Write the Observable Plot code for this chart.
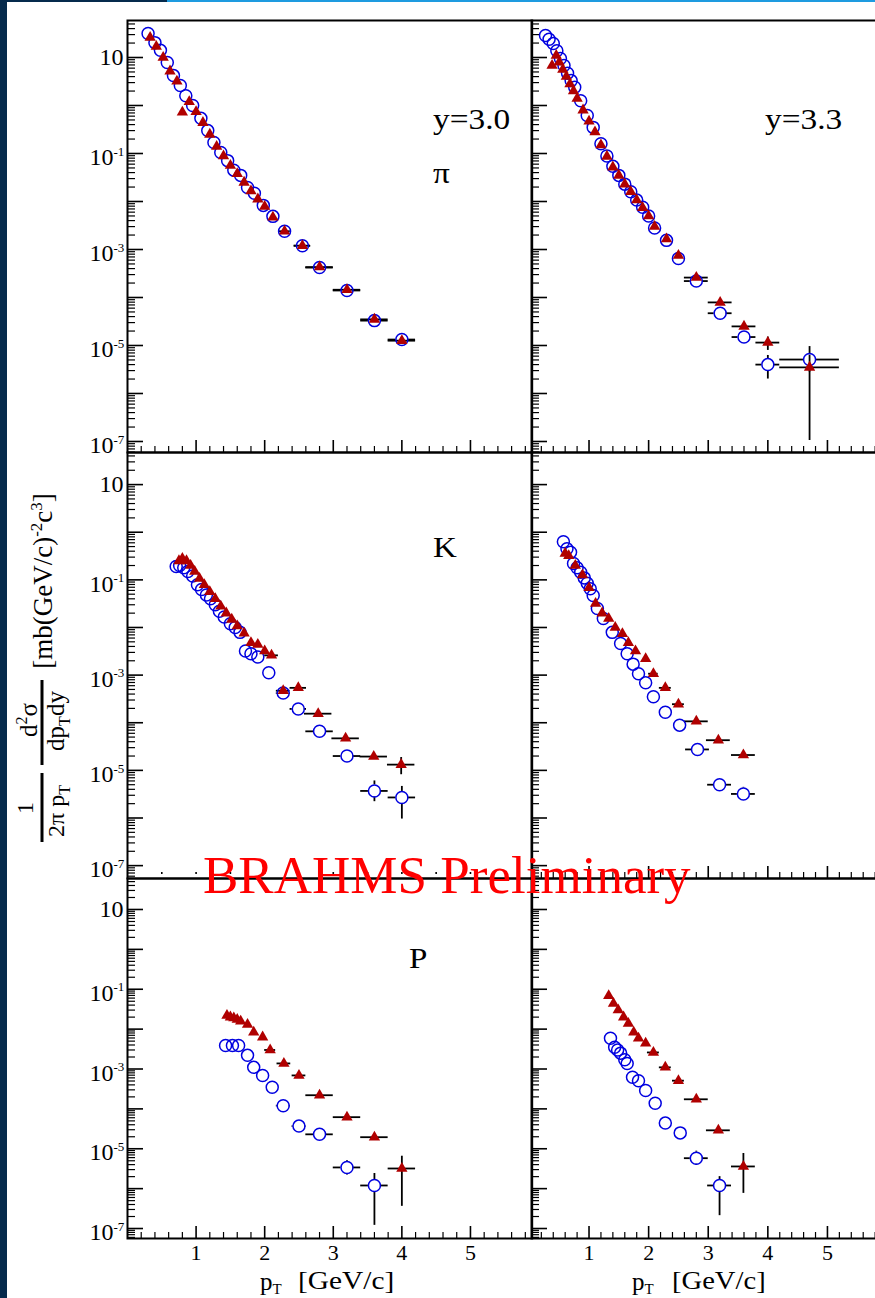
<!DOCTYPE html>
<html><head><meta charset="utf-8">
<script src="https://cdn.jsdelivr.net/npm/d3@7"></script>
<script src="https://cdn.jsdelivr.net/npm/@observablehq/plot@0.6"></script>
<style>
html,body{margin:0;padding:0;background:#fff;width:875px;height:1298px;overflow:hidden;}
#root{position:relative;width:875px;height:1298px;overflow:hidden;background:#fff;}
.panel{position:absolute;}
.panel svg{overflow:visible;background:transparent !important;max-width:none !important;display:block;}
#ov{position:absolute;left:0;top:0;pointer-events:none;}
</style></head>
<body><div id="root">
<div style="position:absolute;left:0;top:0;width:7px;height:1298px;background:#052a4c"></div>
<div style="position:absolute;left:0;top:0;width:167px;height:2px;background:#052a4c"></div>
<div style="position:absolute;left:167px;top:0;width:708px;height:2px;background:#1e9be0"></div>
</div>
<script>
// ---------------- DATA ----------------
// pi, y=3.0  (open circles / filled triangles)
const pi30_circ_pT  = [0.30,0.40,0.48,0.58,0.67,0.77,0.85,0.95,1.07,1.17,1.26,1.36,1.46,1.55,1.65,1.75,1.85,1.98,2.12,2.29,2.55,2.8,3.2,3.6,4.0];
const pi30_circ     = [31.6,20.4,14.1,7.9,4.2,2.6,1.6,1.0,0.54,0.30,0.17,0.105,0.071,0.045,0.035,0.0195,0.0148,0.0083,0.0049,0.0024,0.0012,4.2e-4,1.4e-4,3.3e-5,1.33e-5];
const pi30_circ_dpT = [0,0,0,0,0,0,0,0,0,0,0,0,0,0,0,0,0,0,0,0.08,0.12,0.2,0.2,0.2,0.2];
const pi30_tri_pT   = [0.33,0.42,0.52,0.62,0.72,0.80,0.90,1.00,1.10,1.20,1.30,1.40,1.50,1.60,1.70,1.80,1.90,2.00,2.12,2.29,2.55,2.8,3.2,3.6,4.0];
const pi30_tri      = [26,17,10,5.2,3.2,0.72,1.2,0.74,0.44,0.25,0.14,0.089,0.056,0.038,0.025,0.0166,0.0112,0.0079,0.0047,0.0024,0.0012,4.3e-4,1.45e-4,3.5e-5,1.26e-5];
const pi30_tri_dpT  = [0,0,0,0,0,0,0,0,0,0,0,0,0,0,0,0,0,0,0,0.08,0.12,0.2,0.2,0.2,0.2];

// pi, y=3.3
const pi33_circ_pT  = [0.27,0.33,0.40,0.46,0.52,0.58,0.64,0.70,0.76,0.86,0.97,1.07,1.20,1.30,1.40,1.50,1.60,1.70,1.80,1.90,2.00,2.10,2.30,2.50,2.8,3.2,3.6,4.0,4.7];
const pi33_circ     = [28.8,24,19.5,13.8,9.5,6.8,4.7,3.3,2.4,1.26,0.62,0.35,0.16,0.089,0.054,0.035,0.023,0.016,0.0107,0.0076,0.005,0.0028,0.00155,6.5e-4,2.2e-4,4.7e-5,1.5e-5,4e-6,5.1e-6];
const pi33_circ_dpT = [0,0,0,0,0,0,0,0,0,0,0,0,0,0,0,0,0,0,0,0,0,0,0,0,0.2,0.2,0.2,0.2,0.5];
const pi33_tri_pT   = [0.38,0.45,0.50,0.56,0.62,0.68,0.74,0.80,0.90,1.00,1.10,1.20,1.30,1.40,1.50,1.60,1.70,1.80,1.90,2.00,2.10,2.30,2.50,2.8,3.2,3.6,4.0,4.7];
const pi33_tri      = [6.8,11,8,5.6,4,2.8,2.0,1.4,0.8,0.47,0.28,0.15,0.087,0.052,0.035,0.023,0.016,0.0107,0.0074,0.005,0.003,0.00166,7.5e-4,2.6e-4,7.9e-5,2.5e-5,1.15e-5,3.5e-6];
const pi33_tri_dpT  = [0,0,0,0,0,0,0,0,0,0,0,0,0,0,0,0,0,0,0,0,0,0,0,0.2,0.2,0.2,0.2,0.5];
const pi33_circ_errPT = [4.0,4.7], pi33_circ_lo = [2.0e-6,2.8e-6], pi33_circ_hi = [6.2e-6,9.5e-6];
const pi33_tri_errPT  = [4.0,4.7], pi33_tri_lo  = [7.9e-6,1.05e-7], pi33_tri_hi  = [1.5e-5,6.3e-6];

// K, y=3.0
const K30_circ_pT  = [0.71,0.76,0.82,0.88,0.95,1.02,1.08,1.15,1.21,1.28,1.34,1.41,1.50,1.57,1.64,1.72,1.80,1.90,2.06,2.27,2.49,2.8,3.2,3.6,4.0];
const K30_circ     = [0.19,0.2,0.18,0.15,0.12,0.079,0.063,0.048,0.04,0.03,0.022,0.0166,0.012,0.01,0.0079,0.0032,0.0028,0.0024,0.00112,4.2e-4,1.95e-4,6.6e-5,2.0e-5,3.7e-6,2.7e-6];
const K30_circ_dpT = [0,0,0,0,0,0,0,0,0,0,0,0,0,0,0,0,0,0,0,0.1,0.12,0.2,0.2,0.2,0.2];
const K30_tri_pT   = [0.75,0.80,0.86,0.92,0.98,1.05,1.12,1.20,1.28,1.36,1.44,1.52,1.60,1.70,1.80,1.90,2.00,2.10,2.27,2.49,2.78,3.18,3.59,3.99];
const K30_tri      = [0.25,0.28,0.25,0.2,0.15,0.107,0.079,0.056,0.04,0.028,0.02,0.0148,0.0107,0.0076,0.0048,0.0044,0.0032,0.0026,4.7e-4,5.4e-4,1.55e-4,4.7e-5,1.95e-5,1.32e-5];
const K30_tri_dpT  = [0,0,0,0,0,0,0,0,0,0,0,0,0,0,0,0,0,0.1,0.1,0.12,0.2,0.2,0.2,0.2];
const K30_circ_errPT = [3.6,4.0], K30_circ_lo = [2.2e-6,9.5e-7], K30_circ_hi = [6.0e-6,4.6e-6];
const K30_tri_errPT  = [3.99], K30_tri_lo = [8.1e-6], K30_tri_hi = [1.86e-5];

// K, y=3.3
const K33_circ_pT  = [0.57,0.63,0.69,0.74,0.80,0.86,0.92,0.97,1.02,1.07,1.14,1.24,1.39,1.53,1.64,1.74,1.83,1.95,2.08,2.28,2.52,2.82,3.19,3.59];
const K33_circ     = [0.63,0.45,0.38,0.22,0.18,0.145,0.11,0.085,0.065,0.047,0.025,0.0155,0.0079,0.0046,0.0028,0.0017,0.00107,6.9e-4,3.5e-4,1.66e-4,8.9e-5,2.75e-5,5e-6,3.2e-6];
const K33_circ_dpT = [0,0,0,0,0,0,0,0,0,0,0,0,0,0,0,0,0,0,0,0,0,0.2,0.2,0.2];
const K33_tri_pT   = [0.60,0.66,0.77,0.89,1.00,1.11,1.22,1.33,1.44,1.56,1.66,1.78,1.95,2.08,2.28,2.50,2.80,3.17,3.59];
const K33_tri      = [0.36,0.32,0.2,0.126,0.068,0.032,0.02,0.0155,0.01,0.0074,0.0048,0.0032,0.0022,0.00107,5.4e-4,2.45e-4,1.07e-4,4.3e-5,2.1e-5];
const K33_tri_dpT  = [0,0,0,0,0,0,0,0,0,0,0,0,0,0.08,0.1,0.1,0.2,0.2,0.2];
const K33_circ_errPT = [3.59], K33_circ_lo = [2.4e-6], K33_circ_hi = [4.4e-6];

// P, y=3.0
const P30_circ_pT  = [1.43,1.53,1.62,1.75,1.84,1.97,2.11,2.27,2.50,2.80,3.20,3.60];
const P30_circ     = [0.0039,0.0039,0.0039,0.0022,0.0011,6.9e-4,3.5e-4,1.2e-4,3.7e-5,2.3e-5,3.4e-6,1.2e-6];
const P30_circ_dpT = [0,0,0,0,0,0,0,0.1,0.1,0.2,0.2,0.2];
const P30_tri_pT   = [1.45,1.50,1.55,1.60,1.65,1.75,1.84,1.97,2.08,2.28,2.50,2.80,3.20,3.60,4.00];
const P30_tri      = [0.022,0.02,0.019,0.0174,0.0158,0.013,0.0083,0.0063,0.003,0.00138,6.9e-4,2.2e-4,6.2e-5,1.95e-5,3.2e-6];
const P30_tri_dpT  = [0,0,0,0,0,0,0,0,0.08,0.1,0.1,0.2,0.2,0.2,0.2];
const P30_circ_errPT = [3.2,3.6], P30_circ_lo = [2.2e-6,1.2e-7], P30_circ_hi = [5e-6,2.4e-6];
const P30_tri_errPT  = [4.0], P30_tri_lo = [3.6e-7], P30_tri_hi = [6.5e-6];

// P, y=3.3
const P33_circ_pT  = [1.36,1.43,1.48,1.53,1.60,1.64,1.73,1.83,1.95,2.11,2.28,2.53,2.80,3.19];
const P33_circ     = [0.0059,0.0035,0.003,0.0025,0.0017,0.00138,6.2e-4,5.1e-4,2.9e-4,1.38e-4,4.4e-5,2.5e-5,5.8e-6,1.2e-6];
const P33_circ_dpT = [0,0,0,0,0,0,0,0,0,0,0,0,0.2,0.2];
const P33_tri_pT   = [1.33,1.41,1.49,1.58,1.66,1.75,1.83,1.95,2.08,2.28,2.50,2.80,3.17,3.59];
const P33_tri      = [0.069,0.044,0.03,0.02,0.0138,0.0083,0.0059,0.0044,0.0026,0.0011,5.1e-4,1.74e-4,2.9e-5,3.6e-6];
const P33_tri_dpT  = [0,0,0,0,0,0,0,0,0.1,0.1,0.1,0.2,0.2,0.2];
const P33_circ_errPT = [2.8,3.19], P33_circ_lo = [3.8e-6,2.1e-7], P33_circ_hi = [8.7e-6,2.0e-6];
const P33_tri_errPT  = [3.59], P33_tri_lo = [7.6e-7], P33_tri_hi = [7.6e-6];

// axis tick values
const xMajor = [1,2,3,4,5];
const xHalf = [0.5,1,1.5,2,2.5,3,3.5,4,4.5,5,5.5];
const yLabelDecades = [1,-1,-3,-5,-7];

// ---------------- BUILD ----------------
const FONT = "'Liberation Serif','Times New Roman',serif";
const BLUE = "#0000e0", RED = "#b00000";
const root = document.getElementById("root");
const NS = "http://www.w3.org/2000/svg";

const mk = (pT, val, dpT) => pT.map((p,i) => ({pt:p, v:val[i], xe:dpT[i]}));
const mkErr = (series, pT, lo, hi) => (pT || []).map((p,i) => {
  const s = series.reduce((a,b) => Math.abs(b.pt-p) < Math.abs(a.pt-p) ? b : a);
  return {pt:s.pt, v:s.v, lo:lo[i], hi:hi[i]};
});

const xMinor = d3.range(1, 30).map(i => +(i*0.2).toFixed(2)).filter(v => Math.abs(v - Math.round(v)) > 1e-6);
function yTicks(lo, hi) {
  const major = [], minor = [];
  for (let n = Math.floor(lo); n <= Math.ceil(hi); n++) {
    const b = Math.pow(10, n);
    if (n >= lo && n <= hi) major.push(b);
    for (let m = 2; m <= 9; m++) { const l = Math.log10(m*b); if (l >= lo && l <= hi) minor.push(m*b); }
  }
  return {major, minor};
}

function errMarks(series, errs, gap) {
  const withX = series.filter(d => d.xe > 0);
  const st = {stroke:"black", strokeWidth:1.8};
  if (gap) return [
    Plot.ruleY(withX, {y:"v", x1:d => d.pt - d.xe, x2:"pt", insetRight:gap, ...st}),
    Plot.ruleY(withX, {y:"v", x1:"pt", x2:d => d.pt + d.xe, insetLeft:gap, ...st}),
    Plot.ruleX(errs, {x:"pt", y1:"hi", y2:"v", insetBottom:gap, ...st}),
    Plot.ruleX(errs, {x:"pt", y1:"v", y2:"lo", insetTop:gap, ...st})
  ];
  return [
    Plot.ruleY(withX, {y:"v", x1:d => d.pt - d.xe, x2:d => d.pt + d.xe, ...st}),
    Plot.ruleX(errs, {x:"pt", y1:"hi", y2:"lo", ...st})
  ];
}

const cols = [
  {left:0,   ml:127, fw:404.7, xdom:[0,5.9],     ylabels:true},
  {left:531, ml:0,   fw:349.6, xdom:[0.035,5.9], ylabels:false}
];
const rows = [
  {top:0,   mt:20, fh:432, mb:0,  ylog:[-7.229,1.771], xlabels:false},
  {top:452, mt:0,  fh:426, mb:0,  ylog:[-7.27,1.674],  xlabels:false},
  {top:878, mt:0,  fh:360, mb:60, ylog:[-7.25,1.777],  xlabels:true}
];

function makePanel(col, row, circ, tri, circErr, triErr, hiddenXTicks) {
  const [lo, hi] = row.ylog;
  const {major, minor} = yTicks(lo, hi);
  const xTickMarks = hiddenXTicks
    ? [Plot.ruleX(xHalf, {stroke:"black", strokeWidth:1.6, insetTop:row.fh - 6, insetBottom:4})]
    : [Plot.ruleX(xMinor.filter(v => v > col.xdom[0]), {stroke:"black", strokeWidth:1.2, insetTop:row.fh - 6}),
       Plot.ruleX(xMajor, {stroke:"black", strokeWidth:1.6, insetTop:row.fh - 12})];
  const marks = [
    Plot.ruleY(minor, {stroke:"black", strokeWidth:1.2, insetRight:col.fw - 8}),
    Plot.ruleY(major, {stroke:"black", strokeWidth:1.6, insetRight:col.fw - 16}),
    ...xTickMarks,
    ...errMarks(circ, circErr, 6),
    ...errMarks(tri, triErr, 0),
    Plot.dot(circ, {x:"pt", y:"v", r:6, stroke:BLUE, strokeWidth:1.5, fill:"none"}),
    Plot.dot(tri, {x:"pt", y:"v", r:4.2, symbol:"triangle", fill:RED, stroke:"none"}),
    Plot.frame({stroke:"black", strokeWidth:2})
  ];
  if (col.ylabels) {
    const txt = {frameAnchor:"left", fontFamily:FONT, fill:"black", ariaLabel:"ylab"};
    marks.push(Plot.text(yLabelDecades.filter(d => d === 1), {y:d => 10**d, text:() => "10", textAnchor:"end", dx:-4, fontSize:24, ...txt}));
    marks.push(Plot.text(yLabelDecades.filter(d => d !== 1), {y:d => 10**d, text:() => "10", textAnchor:"end", dx:-14, dy:4, fontSize:24, ...txt}));
    marks.push(Plot.text(yLabelDecades.filter(d => d !== 1), {y:d => 10**d, text:d => "-" + (-d), textAnchor:"start", dx:-14, dy:-2, fontSize:13, ...txt}));
  }
  if (row.xlabels) {
    marks.push(Plot.text(xMajor, {x:d => d, text:d => String(d), frameAnchor:"bottom", lineAnchor:"top", dy:6, fontSize:22, fontFamily:FONT, fill:"black"}));
  }
  const svg = Plot.plot({
    width: col.ml + col.fw, height: row.mt + row.fh + row.mb,
    marginLeft: col.ml, marginRight: 0, marginTop: row.mt, marginBottom: row.mb,
    x: {domain: col.xdom, axis: null},
    y: {type: "log", domain: [10**lo, 10**hi], axis: null},
    style: {background: "transparent", overflow: "visible"},
    marks
  });
  svg.querySelectorAll('g[aria-label="ylab"]').forEach(g => {
    const w = document.createElementNS(NS, "g");
    w.setAttribute("transform", `translate(${col.ml},0) scale(1.12,1) translate(${-col.ml},0)`);
    g.parentNode.insertBefore(w, g); w.appendChild(g);
  });
  const div = document.createElement("div");
  div.className = "panel";
  div.style.left = col.left + "px"; div.style.top = row.top + "px";
  div.appendChild(svg);
  root.appendChild(div);
}

const pi30c = mk(pi30_circ_pT, pi30_circ, pi30_circ_dpT), pi30t = mk(pi30_tri_pT, pi30_tri, pi30_tri_dpT);
const pi33c = mk(pi33_circ_pT, pi33_circ, pi33_circ_dpT), pi33t = mk(pi33_tri_pT, pi33_tri, pi33_tri_dpT);
const K30c = mk(K30_circ_pT, K30_circ, K30_circ_dpT), K30t = mk(K30_tri_pT, K30_tri, K30_tri_dpT);
const K33c = mk(K33_circ_pT, K33_circ, K33_circ_dpT), K33t = mk(K33_tri_pT, K33_tri, K33_tri_dpT);
const P30c = mk(P30_circ_pT, P30_circ, P30_circ_dpT), P30t = mk(P30_tri_pT, P30_tri, P30_tri_dpT);
const P33c = mk(P33_circ_pT, P33_circ, P33_circ_dpT), P33t = mk(P33_tri_pT, P33_tri, P33_tri_dpT);

makePanel(cols[0], rows[0], pi30c, pi30t, [], []);
makePanel(cols[1], rows[0], pi33c, pi33t, mkErr(pi33c, pi33_circ_errPT, pi33_circ_lo, pi33_circ_hi), mkErr(pi33t, pi33_tri_errPT, pi33_tri_lo, pi33_tri_hi));
makePanel(cols[0], rows[1], K30c, K30t, mkErr(K30c, K30_circ_errPT, K30_circ_lo, K30_circ_hi), mkErr(K30t, K30_tri_errPT, K30_tri_lo, K30_tri_hi), true);
makePanel(cols[1], rows[1], K33c, K33t, mkErr(K33c, K33_circ_errPT, K33_circ_lo, K33_circ_hi), []);
makePanel(cols[0], rows[2], P30c, P30t, mkErr(P30c, P30_circ_errPT, P30_circ_lo, P30_circ_hi), mkErr(P30t, P30_tri_errPT, P30_tri_lo, P30_tri_hi));
makePanel(cols[1], rows[2], P33c, P33t, mkErr(P33c, P33_circ_errPT, P33_circ_lo, P33_circ_hi), mkErr(P33t, P33_tri_errPT, P33_tri_lo, P33_tri_hi));

// ---------------- TEXT OVERLAY ----------------
const ov = `
<svg id="ov" xmlns="${NS}" width="875" height="1298" font-family="${FONT}" fill="black">
  <text transform="translate(433,129) scale(1.15,1)" font-size="29">y=3.0</text>
  <text transform="translate(433,183) scale(1.15,1)" font-size="29">π</text>
  <text transform="translate(765,129) scale(1.15,1)" font-size="29">y=3.3</text>
  <text transform="translate(433,557) scale(1.1,1)" font-size="30">K</text>
  <text transform="translate(409,968) scale(1.1,1)" font-size="30">P</text>

  <text transform="translate(33,808) rotate(-90)" text-anchor="middle" font-size="24">1</text>
  <line x1="42" x2="42" y1="773" y2="842" stroke="black" stroke-width="3"/>
  <text transform="translate(64,811) rotate(-90)" text-anchor="middle" font-size="24">2π p<tspan font-size="16" dy="6">T</tspan></text>
  <text transform="translate(37,720) rotate(-90)" text-anchor="middle" font-size="25">d<tspan font-size="16" dy="-10">2</tspan><tspan dy="10">σ</tspan></text>
  <line x1="42" x2="42" y1="680" y2="765" stroke="black" stroke-width="3"/>
  <text transform="translate(64,721) rotate(-90)" text-anchor="middle" font-size="25">dp<tspan font-size="16" dy="6">T</tspan><tspan dy="-6">dy</tspan></text>
  <text transform="translate(52,581) rotate(-90)" text-anchor="middle" font-size="27">[mb(GeV/c)<tspan font-size="17" dy="-10">-2</tspan><tspan dy="10">c</tspan><tspan font-size="17" dy="-10">3</tspan><tspan dy="10">]</tspan></text>

  <text transform="translate(260,1290)" font-size="25">p<tspan font-size="15" dy="4">T</tspan></text>
  <text transform="translate(298,1289) scale(1.13,1)" font-size="26">[GeV/c]</text>
  <text transform="translate(632,1290)" font-size="25">p<tspan font-size="15" dy="4">T</tspan></text>
  <text transform="translate(672,1289) scale(1.1,1)" font-size="26">[GeV/c]</text>

  <text transform="translate(203,893) scale(1.02,1)" font-size="52" fill="#ff0000">BRAHMS Preliminary</text>
</svg>`;
root.insertAdjacentHTML("beforeend", ov);
</script>
</body></html>
